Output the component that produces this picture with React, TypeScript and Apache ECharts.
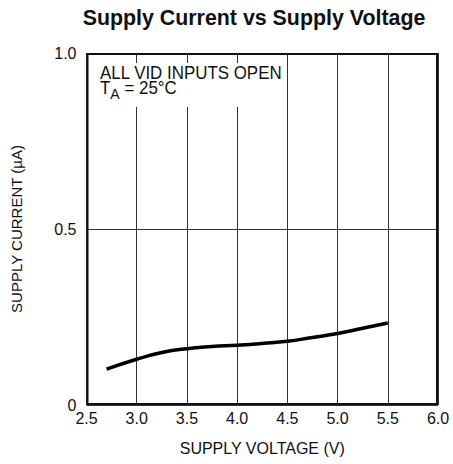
import React, { useEffect, useRef } from "react";
import * as echarts from "echarts";

const voltage = [2.7, 3.0, 3.25, 3.5, 3.75, 4.0, 4.25, 4.5, 4.75, 5.0, 5.25, 5.5];
const current = [0.102, 0.13, 0.149, 0.16, 0.166, 0.17, 0.175, 0.181, 0.192, 0.203, 0.218, 0.233];
const xTicks = [2.5, 3.0, 3.5, 4.0, 4.5, 5.0, 5.5, 6.0];
const yTicks = [0, 0.5, 1.0];

const FONT = "'Liberation Sans', Arial, sans-serif";

export default function App() {
  const ref = useRef<HTMLDivElement>(null);
  useEffect(() => {
    const chart = echarts.init(ref.current!, null, { renderer: "svg" });
    chart.setOption({
      animation: false,
      backgroundColor: "#fff",
      grid: { left: 86.5, right: 15, top: 53, bottom: 59 },
      xAxis: {
        type: "value",
        min: xTicks[0],
        max: xTicks[xTicks.length - 1],
        interval: 0.5,
        name: "SUPPLY VOLTAGE (V)",
        nameLocation: "middle",
        nameGap: 35,
        nameTextStyle: { fontFamily: FONT, fontSize: 16, color: "#111" },
        axisLine: { show: false },
        axisTick: { show: false },
        axisLabel: {
          fontFamily: FONT, fontSize: 16, color: "#111", margin: 5,
          formatter: (v: number) => v.toFixed(1),
        },
        splitLine: { show: true, lineStyle: { color: "#333", width: 1 } },
      },
      yAxis: {
        type: "value",
        min: yTicks[0],
        max: yTicks[yTicks.length - 1],
        interval: 0.5,
        name: "SUPPLY CURRENT (µA)",
        nameLocation: "middle",
        nameGap: 63,
        nameRotate: 90,
        nameTextStyle: { fontFamily: FONT, fontSize: 15, color: "#111" },
        axisLine: { show: false },
        axisTick: { show: false },
        axisLabel: {
          fontFamily: FONT, fontSize: 16, color: "#111", margin: 10,
          formatter: (v: number) => (v === 0 ? "0" : v.toFixed(1)),
        },
        splitLine: { show: true, lineStyle: { color: "#333", width: 1 } },
      },
      graphic: [
        {
          type: "text",
          x: 254,
          y: 6,
          scaleX: 0.93,
          z: 12,
          style: {
            text: "Supply Current vs Supply Voltage",
            fontFamily: FONT,
            fontWeight: "bold",
            fontSize: 23,
            fill: "#111",
            textAlign: "center",
            textVerticalAlign: "top",
          },
        },
        {
          type: "rect",
          shape: { x: 92, y: 63, width: 150, height: 44 },
          style: { fill: "#fff" },
          z: 10,
        },
        {
          type: "rect",
          shape: { x: 87.5, y: 54, width: 349.5, height: 350 },
          style: { fill: "none", stroke: "#111", lineWidth: 2 },
          z: 11,
        },
        {
          type: "text",
          x: 100,
          y: 64,
          scaleX: 0.94,
          z: 12,
          style: {
            text: "ALL VID INPUTS OPEN",
            fontFamily: FONT,
            fontSize: 18,
            fill: "#111",
            textVerticalAlign: "top",
          },
        },
        {
          type: "text",
          x: 100,
          y: 78,
          scaleX: 0.94,
          z: 12,
          style: {
            text: "{t|T}{s|A}{t| = 25°C}",
            fontFamily: FONT,
            fill: "#111",
            textVerticalAlign: "top",
            rich: {
              t: { fontFamily: FONT, fontSize: 18, fill: "#111", height: 20, verticalAlign: "top" },
              s: { fontFamily: FONT, fontSize: 15, fill: "#111", height: 20, padding: [6, 0, 0, 0], verticalAlign: "top" },
            },
          },
        },
      ],
      series: [
        {
          type: "line",
          data: voltage.map((v, i) => [v, current[i]]),
          smooth: true,
          symbol: "none",
          lineStyle: { color: "#000", width: 3.5 },
          z: 5,
        },
      ],
    });
    return () => chart.dispose();
  }, []);
  return <div ref={ref} style={{ width: 453, height: 464, position: "absolute", left: 0, top: 0 }} />;
}
